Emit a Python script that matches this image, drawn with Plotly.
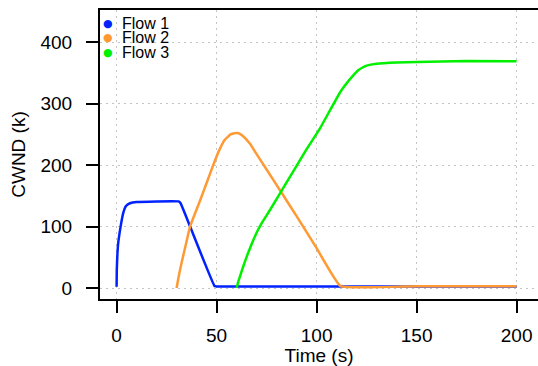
import plotly.graph_objects as go

# ---- data ----
flow1_t = [0, 0.1, 0.4, 0.8, 2, 3.3, 4.7, 6.7, 10, 20, 31, 32, 37, 49, 50, 100, 150, 200]
flow1_y = [2, 30, 55, 73, 100, 122, 133.5, 138, 140, 141, 141, 138, 98, 3, 2.5, 2.5, 2.5, 2.5]

flow2_t = [30, 31, 32.5, 35, 36.7, 41.7, 45, 48.3, 51, 54, 57, 59, 61, 63, 66.7, 70, 75, 82.5, 90, 100, 112, 150, 200]
flow2_y = [0, 18, 41, 76, 100, 142, 171, 200, 222, 241, 250, 252, 252, 248, 235, 218, 193, 155, 117, 65, 3, 3, 3]

flow3_t = [60, 61, 63.3, 65.5, 67.7, 70, 73, 76.7, 85, 95, 101.7, 112, 118, 121, 123, 125, 130, 140, 150, 175, 200]
flow3_y = [0, 12, 35, 55, 73, 90, 108, 127, 172, 226, 260, 320, 345, 355, 359, 362, 365, 367, 368, 369.5, 369]

series_names = ["Flow 1", "Flow 2", "Flow 3"]
series_colors = ["#0022FF", "#FF9933", "#00F000"]
x_ticks = [0, 50, 100, 150, 200]
y_ticks = [0, 100, 200, 300, 400]

FONT = "Liberation Sans, Arial, Helvetica, sans-serif"

fig = go.Figure()
for t, y, name, col in zip([flow1_t, flow2_t, flow3_t], [flow1_y, flow2_y, flow3_y],
                           series_names, series_colors):
    fig.add_trace(go.Scatter(x=t, y=y, mode="lines", name=name, showlegend=False,
                             line=dict(color=col, width=2.5, shape="spline", smoothing=0.3)))

W, H = 538, 366
ml, mr, mt, mb = 100, 0, 10, 67
pw, ph = W - ml - mr, H - mt - mb
rows_px = [23, 37.5, 52]   # pixel rows of the legend entries
annotations = []
for name, col, ypx in zip(series_names, series_colors, rows_px):
    yp = (H - mb - ypx) / ph
    annotations.append(dict(xref="paper", yref="paper", x=(108 - ml) / pw, y=yp,
                            xanchor="center", yanchor="middle", showarrow=False,
                            text="●", font=dict(color=col, size=11, family="DejaVu Sans")))
    annotations.append(dict(xref="paper", yref="paper", x=(120 - ml) / pw, y=yp,
                            xanchor="left", yanchor="middle", showarrow=False,
                            text=name, font=dict(color="black", size=16, family=FONT)))

fig.update_layout(
    width=W, height=H,
    margin=dict(l=ml, r=mr, t=mt, b=mb, pad=0),
    paper_bgcolor="white", plot_bgcolor="white",
    font=dict(family=FONT, size=19, color="black"),
    showlegend=False,
    annotations=annotations,
)
grid = dict(showgrid=True, gridcolor="#c4c4c4", gridwidth=1, griddash="1.5px,4.5px")
fig.update_xaxes(
    range=[-8.3, 210.7], tickvals=x_ticks, ticktext=[str(v) for v in x_ticks],
    showline=True, linecolor="black", linewidth=2, mirror=True,
    ticks="outside", ticklen=12, tickwidth=2, tickcolor="black",
    ticklabelstandoff=6, ticklabeloverflow="allow",
    zeroline=False,
    title=dict(text="Time (s)", font=dict(size=19), standoff=2),
    tickfont=dict(size=19),
    **grid,
)
fig.update_yaxes(
    range=[-17.9, 452.6], tickvals=y_ticks, ticktext=[str(v) for v in y_ticks],
    showline=True, linecolor="black", linewidth=2, mirror=False,
    ticks="outside", ticklen=12, tickwidth=2, tickcolor="black",
    ticklabelstandoff=10, ticklabeloverflow="allow",
    zeroline=False,
    title=dict(text="CWND (k)", font=dict(size=19), standoff=10),
    tickfont=dict(size=19),
    **grid,
)

fig.write_html("out.html",
               config={"displayModeBar": False},
               post_script="document.body.style.margin='0';document.body.style.overflow='hidden';")
